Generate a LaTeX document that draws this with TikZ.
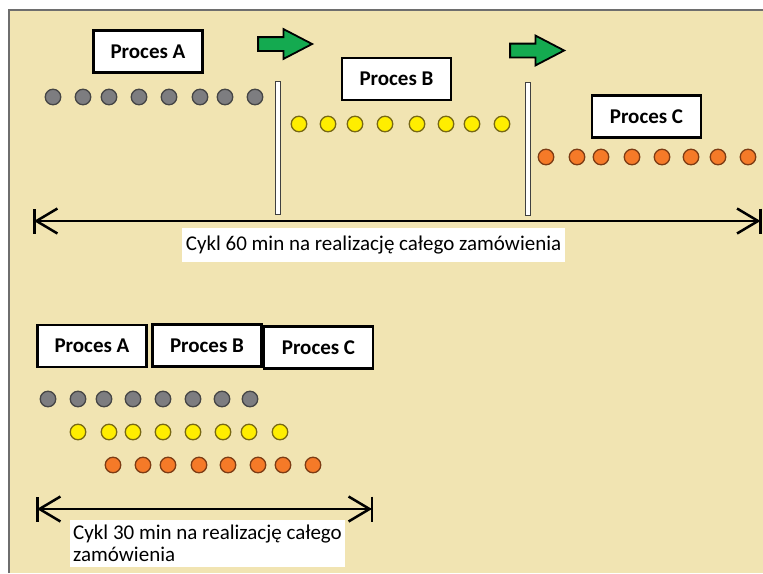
\documentclass[tikz,border=0pt]{standalone}
\usepackage{fontspec}
\setmainfont{Carlito}
\usepackage{xcolor}
\definecolor{Paper}{RGB}{241,228,178}
\definecolor{Frame}{RGB}{110,110,110}
\definecolor{ColA}{RGB}{125,125,128}
\definecolor{ColAd}{RGB}{70,70,70}
\definecolor{ColB}{RGB}{255,238,0}
\definecolor{ColBd}{RGB}{120,105,20}
\definecolor{ColC}{RGB}{245,122,40}
\definecolor{ColCd}{RGB}{125,60,20}
\definecolor{Go}{RGB}{20,170,80}
\usepackage{tikz}
\usetikzlibrary{shapes.arrows}
\usetikzlibrary{arrows.meta}
\tikzset{Kb/.tip={Straight Barb[length=21pt,width=25pt,sep=-1.5pt]Bar[width=25pt]}}
\tikzstyle{Box}=[rectangle,draw=black,fill=white,line width=2.4pt,
minimum width=109pt,minimum height=42pt,inner sep=0pt,
font=\fontsize{21}{24}\selectfont\bfseries]
\tikzstyle{Dot}=[circle,inner sep=0pt,minimum size=15.5pt,line width=1.3pt]
\tikzstyle{DotA}=[Dot,draw=ColAd,fill=ColA]
\tikzstyle{DotB}=[Dot,draw=ColBd,fill=ColB]
\tikzstyle{DotC}=[Dot,draw=ColCd,fill=ColC]
\tikzstyle{Gate}=[rectangle,draw=black!75,fill=white,line width=1pt,
minimum width=5pt,minimum height=133pt,inner sep=0pt]
\tikzstyle{Flow}=[single arrow,draw=black,fill=Go,line width=1.8pt,
inner xsep=0pt,inner ysep=6pt,minimum width=27pt,minimum height=54pt,
single arrow head extend=8pt,single arrow tip angle=55,
single arrow head indent=0pt]
\tikzstyle{Span}=[line width=2.5pt,{Kb}-{Kb}]
\tikzstyle{Note}=[fill=white,inner xsep=4pt,font=\fontsize{21}{22}\selectfont]

\begin{document}
\begin{tikzpicture}[x=1pt,y=-1pt]
    \useasboundingbox (0,0) rectangle (763,573);
    \fill[white] (0,0) rectangle (763,573);
    \fill[Paper] (9,10) rectangle (763,573);
    \draw[Frame,line width=1.5pt] (9,573) -- (9,10) -- (763,10);
    % one after another: 60 min
        \node[Box](A1)at(148,51.5){Proces A};
        \node[Box](B1)at(396.5,79){Proces B};
        \node[Box](C1)at(646.5,116.5){Proces C};
        \node[Flow](f1)at(278.5,44){};
        \node[Flow](f2)at(530.5,50.5){};
        \foreach \x [count=\i] in {53,83,109,139,169,200,225,255}
            \node[DotA](a\i)at(\x,97){};
        \foreach \x [count=\i] in {299,328,355,385,417,446,472,502}
            \node[DotB](b\i)at(\x,124){};
        \foreach \x [count=\i] in {546,577,601,632,662,691,718,748}
            \node[DotC](c\i)at(\x,157){};
        \node[Gate](g1)at(278,148){};
        \node[Gate](g2)at(528,149){};
        \coordinate(s1)at(33,221);
        \coordinate(e1)at(761.5,221);
        \draw[Span](s1)--(e1);
        \node[Note,text height=18pt,text depth=8pt,inner ysep=4pt](t1)
            at(373.5,245){Cykl 60 min na realizację całego zamówienia};
    % overlapping: 30 min
        \node[Box](A2)at(92,346){Proces A};
        \node[Box](B2)at(207,345.5){Proces B};
        \node[Box](C2)at(318.5,347.5){Proces C};
        \foreach \x [count=\i] in {48,78,104,133,163,193,222,250}
            \node[DotA](a2\i)at(\x,399){};
        \foreach \x [count=\i] in {78,109,133,163,193,223,249,280}
            \node[DotB](b2\i)at(\x,432){};
        \foreach \x [count=\i] in {113,143,168,199,228,258,283,313}
            \node[DotC](c2\i)at(\x,465){};
        \coordinate(s2)at(36,509);
        \coordinate(e2)at(373,509);
        \draw[Span](s2)--(e2);
        \node[Note,anchor=north west,align=left,inner xsep=3pt,inner ysep=5pt](t2)
            at(70,520){Cykl 30 min na realizację całego\\zamówienia};
\end{tikzpicture}
\end{document}
